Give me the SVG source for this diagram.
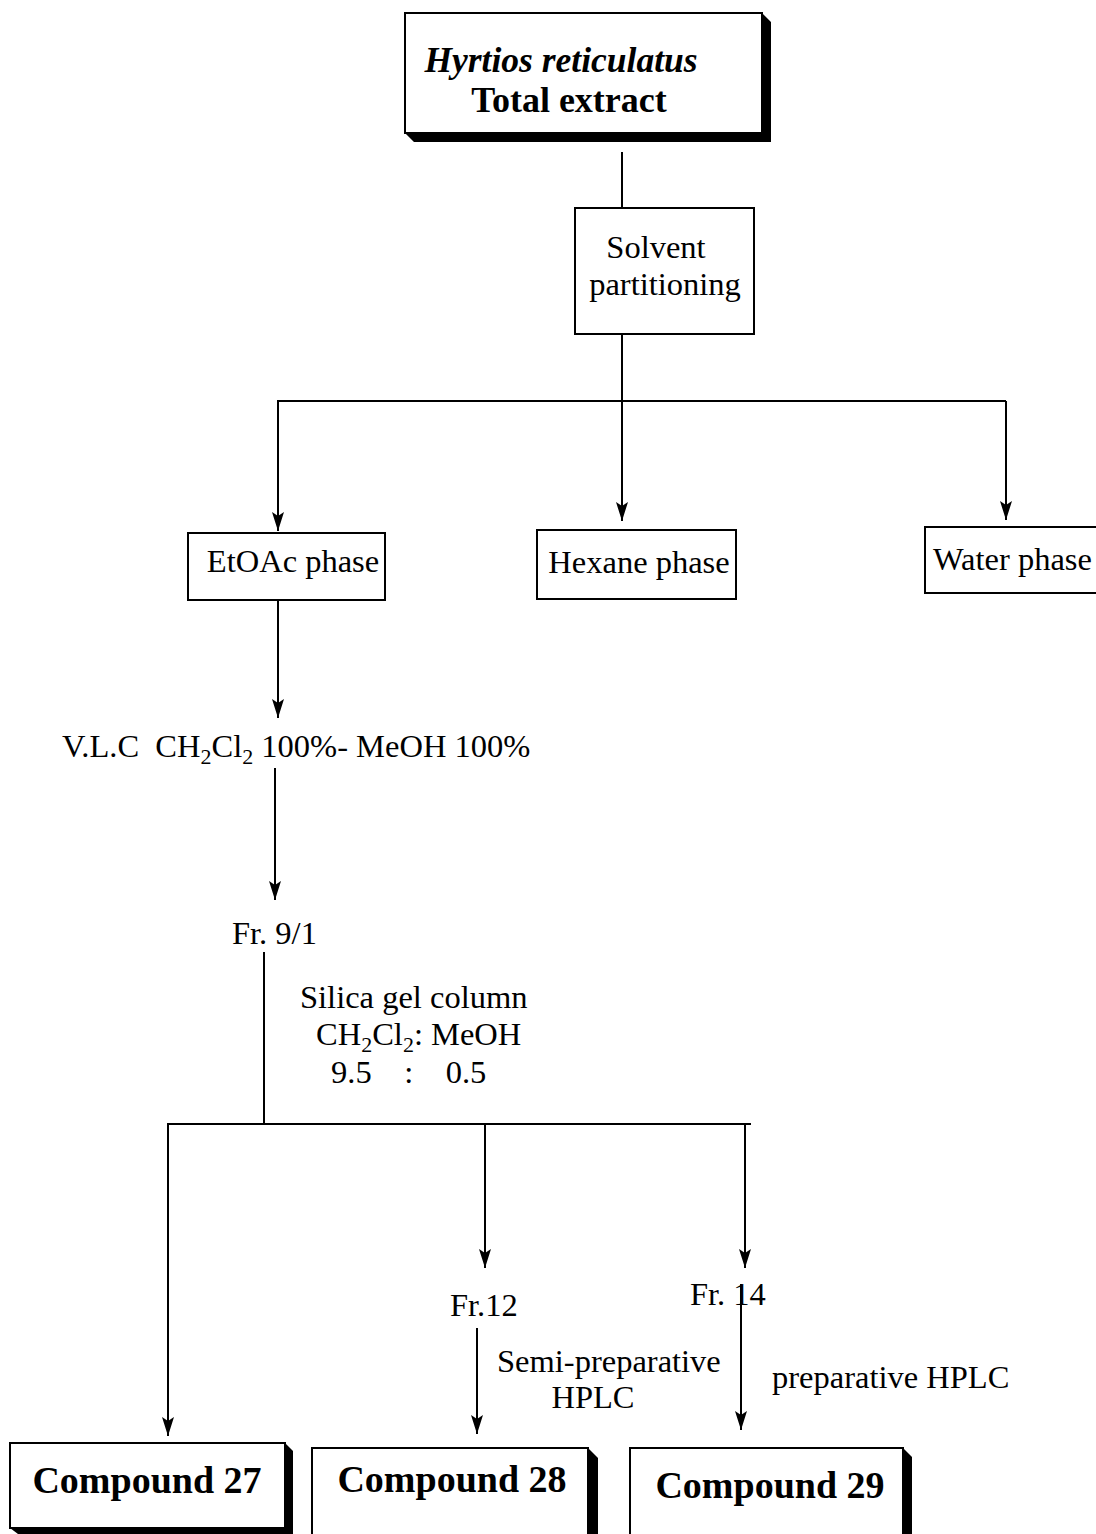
<svg xmlns="http://www.w3.org/2000/svg" width="1096" height="1534" viewBox="0 0 1096 1534">
<style>
text{font-family:"Liberation Serif","Times New Roman",serif;fill:#000}
.t{font-size:32.5px}
.s{font-size:22px}
.b{font-weight:bold}
.box{fill:#fff;stroke:#000;stroke-width:2}
.sh{fill:#000}
.ln{stroke:#000;stroke-width:2;fill:none}
</style>
<defs>
<marker id="ah" markerWidth="20" markerHeight="12" refX="19" refY="6" orient="auto" markerUnits="userSpaceOnUse" viewBox="0 0 20 12">
<path d="M0,0 L19,6 L0,12 L4,6 Z" fill="#000"/>
</marker>
</defs>
<g id="connectors">
<line class="ln" x1="622" y1="152" x2="622" y2="208"/>
<line class="ln" x1="622" y1="334" x2="622" y2="401"/>
<line class="ln" x1="277" y1="401" x2="1006" y2="401"/>
<line class="ln" x1="278" y1="401" x2="278" y2="531" marker-end="url(#ah)"/>
<line class="ln" x1="622" y1="401" x2="622" y2="521" marker-end="url(#ah)"/>
<line class="ln" x1="1006" y1="401" x2="1006" y2="520" marker-end="url(#ah)"/>
<line class="ln" x1="278" y1="600" x2="278" y2="718" marker-end="url(#ah)"/>
<line class="ln" x1="275" y1="768" x2="275" y2="900" marker-end="url(#ah)"/>
<line class="ln" x1="264" y1="952" x2="264" y2="1124"/>
<line class="ln" x1="167" y1="1124" x2="751" y2="1124"/>
<line class="ln" x1="168" y1="1124" x2="168" y2="1436" marker-end="url(#ah)"/>
<line class="ln" x1="485" y1="1124" x2="485" y2="1268" marker-end="url(#ah)"/>
<line class="ln" x1="745" y1="1124" x2="745" y2="1268" marker-end="url(#ah)"/>
<line class="ln" x1="477" y1="1328" x2="477" y2="1434" marker-end="url(#ah)"/>
<line class="ln" x1="741" y1="1284" x2="741" y2="1430" marker-end="url(#ah)"/>
</g>
<g id="total-extract">
<polygon class="sh" points="762,13 771,22 771,142 414,142 405,133 762,133"/>
<rect class="box" x="405" y="13" width="357" height="120"/>
<text x="561" y="72" text-anchor="middle" class="b" font-style="italic" font-size="35.5">Hyrtios reticulatus</text>
<text x="569" y="112" text-anchor="middle" class="b" font-size="36">Total extract</text>
</g>
<g id="solvent-partitioning">
<rect class="box" x="575" y="208" width="179" height="126"/>
<text x="656" y="258" text-anchor="middle" class="t">Solvent</text>
<text x="665" y="295" text-anchor="middle" class="t">partitioning</text>
</g>
<g id="etoac-phase">
<rect class="box" x="188" y="533" width="197" height="67"/>
<text x="293" y="572" text-anchor="middle" class="t">EtOAc phase</text>
</g>
<g id="hexane-phase">
<rect class="box" x="537" y="530" width="199" height="69"/>
<text x="639" y="573" text-anchor="middle" class="t">Hexane phase</text>
</g>
<g id="water-phase">
<rect class="box" x="925" y="527" width="175" height="66"/>
<text x="933" y="570" class="t">Water phase</text>
</g>
<g id="vlc">
<text x="62" y="757" class="t" xml:space="preserve">V.L.C  CH<tspan class="s" dy="7">2</tspan><tspan dy="-7">Cl</tspan><tspan class="s" dy="7">2</tspan><tspan dy="-7"> 100%- MeOH 100%</tspan></text>
</g>
<g id="fr-9-1">
<text x="232" y="944" class="t">Fr. 9/1</text>
</g>
<g id="silica-label">
<text x="300" y="1008" class="t">Silica gel column</text>
<text x="316" y="1045" class="t">CH<tspan class="s" dy="7">2</tspan><tspan dy="-7">Cl</tspan><tspan class="s" dy="7">2</tspan><tspan dy="-7">: MeOH</tspan></text>
<text x="331" y="1083" class="t" xml:space="preserve">9.5    :    0.5</text>
</g>
<g id="fr-12">
<text x="450" y="1316" class="t">Fr.12</text>
</g>
<g id="fr-14">
<text x="690" y="1305" class="t">Fr. 14</text>
</g>
<g id="semi-prep-label">
<text x="497" y="1372" class="t">Semi-preparative</text>
<text x="593" y="1408" text-anchor="middle" class="t">HPLC</text>
</g>
<g id="prep-label">
<text x="772" y="1388" class="t">preparative HPLC</text>
</g>
<g id="compound-27">
<polygon class="sh" points="285,1443 293,1451 293,1534 18,1534 10,1528 285,1528"/>
<rect class="box" x="10" y="1443" width="275" height="85"/>
<text x="147" y="1493" text-anchor="middle" class="b" font-size="38">Compound 27</text>
</g>
<g id="compound-28">
<polygon class="sh" points="588,1448 598,1458 598,1540 588,1540"/>
<rect class="box" x="312" y="1448" width="276" height="92"/>
<text x="452" y="1492" text-anchor="middle" class="b" font-size="38">Compound 28</text>
</g>
<g id="compound-29">
<polygon class="sh" points="903,1448 912,1457 912,1540 903,1540"/>
<rect class="box" x="630" y="1448" width="273" height="92"/>
<text x="770" y="1498" text-anchor="middle" class="b" font-size="38">Compound 29</text>
</g>
</svg>
